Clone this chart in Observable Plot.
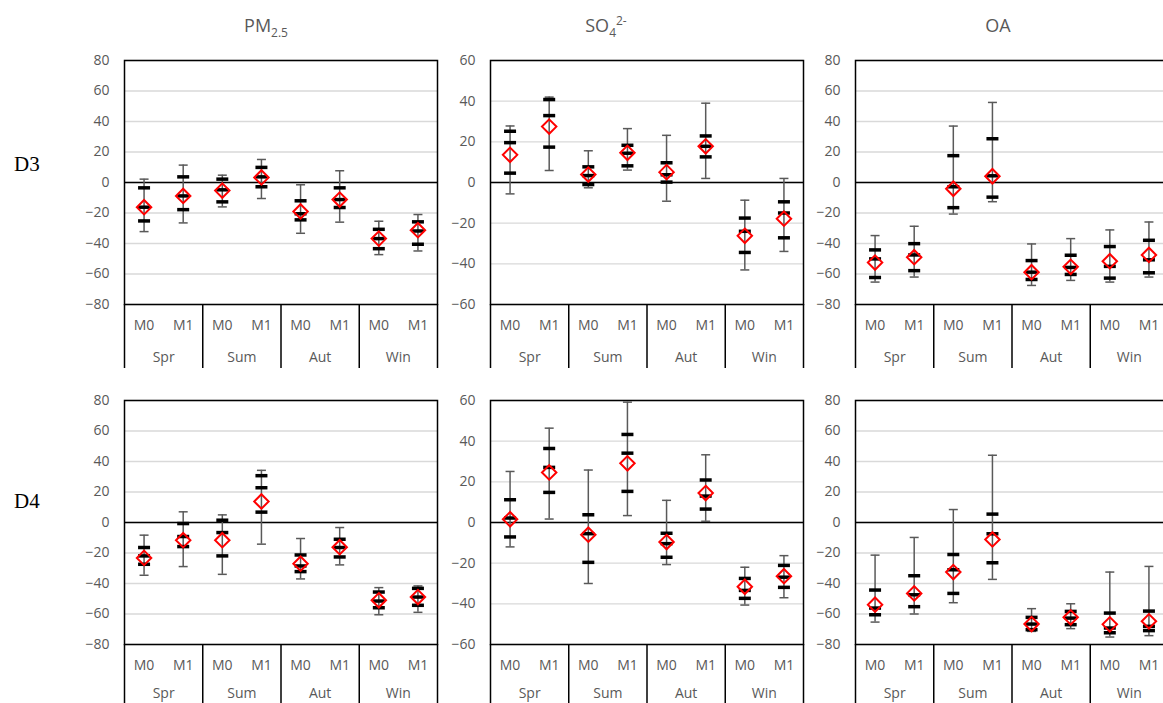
<!DOCTYPE html>
<html>
<head>
<meta charset="utf-8">
<script src="https://cdn.jsdelivr.net/npm/d3@7"></script>
<script src="https://cdn.jsdelivr.net/npm/@observablehq/plot@0.6"></script>
<style>
  html, body { margin: 0; padding: 0; background: #fff; overflow: hidden; }
  #root { position: relative; width: 1163px; height: 703px; overflow: hidden; background: #fff; }
  .title { position: absolute; width: 200px; text-align: center; font-family: "Open Sans", sans-serif; font-size: 18px; line-height: 18px; color: #595959; }
  .title sub, .title sup { font-size: 12px; line-height: 0; }
  .row { position: absolute; font-family: "Liberation Serif", "Times New Roman", serif; font-size: 21px; line-height: 21px; color: #000; }
  .panel { position: absolute; }
  .panel svg { max-width: none !important; }
</style>
</head>
<body>
<div id="root"></div>
<script>
// Categories and tick labels
const seasons = ["Spr", "Sum", "Aut", "Win"];
const models = ["M0", "M1"];
const species = ["PM2.5", "SO4 2-", "OA"];
const domains = ["D3", "D4"];

// Each row: [low whisker, 25th pct, median, 75th pct, high whisker, mean]
// order: Spr M0, Spr M1, Sum M0, Sum M1, Aut M0, Aut M1, Win M0, Win M1
const pm25_D3 = [
  [-32.2, -25.2, -16.2, -3.5, 2.2, -16.2],
  [-26.5, -17.8, -8.8, 3.7, 11.4, -8.8],
  [-16.0, -12.7, -4.8, 2.2, 4.8, -5.3],
  [-10.5, -2.8, 3.7, 9.9, 15.1, 3.3],
  [-33.3, -24.5, -20.5, -12.0, -1.5, -19.0],
  [-26.0, -16.4, -11.2, -3.5, 7.7, -11.2],
  [-47.3, -43.4, -36.8, -30.7, -25.4, -36.8],
  [-44.9, -40.5, -31.8, -25.8, -21.0, -31.3]
];
const so4_D3 = [
  [-5.6, 4.6, 19.6, 25.2, 27.8, 13.6],
  [5.9, 17.4, 32.9, 40.8, 42.0, 27.5],
  [-2.6, -1.0, 3.4, 7.7, 15.6, 3.9],
  [6.1, 8.2, 14.4, 18.3, 26.5, 14.6],
  [-9.2, 0.2, 3.8, 9.7, 23.2, 5.1],
  [2.0, 12.6, 17.8, 22.9, 39.0, 17.8],
  [-43.0, -34.4, -24.0, -17.5, -8.7, -26.2],
  [-33.9, -27.2, -15.0, -9.5, 2.0, -17.8]
];
const oa_D3 = [
  [-65.3, -62.3, -50.1, -44.2, -34.8, -52.5],
  [-62.0, -57.8, -47.5, -40.1, -28.7, -49.0],
  [-20.7, -16.5, -2.8, 17.6, 37.0, -4.1],
  [-12.6, -9.6, 4.4, 28.7, 52.5, 4.1],
  [-67.5, -63.6, -58.8, -51.2, -40.3, -58.8],
  [-64.2, -60.3, -55.7, -47.7, -36.8, -55.3],
  [-65.3, -62.7, -55.0, -42.0, -31.1, -51.6],
  [-62.0, -59.2, -50.7, -37.9, -25.9, -47.5]
];
const pm25_D4 = [
  [-34.6, -27.4, -21.9, -16.4, -8.3, -23.2],
  [-28.9, -15.8, -9.2, -0.7, 7.0, -11.6],
  [-34.0, -21.9, -6.6, 1.5, 5.0, -11.6],
  [-14.2, 6.8, 22.8, 30.7, 34.2, 13.8],
  [-37.0, -32.2, -28.5, -21.3, -10.5, -27.0],
  [-27.8, -22.6, -16.4, -11.0, -3.3, -16.2],
  [-60.5, -55.9, -51.5, -45.6, -42.7, -51.0],
  [-58.9, -54.3, -48.9, -43.2, -41.6, -48.9]
];
const so4_D4 = [
  [-12.0, -7.1, 2.2, 11.2, 25.1, 1.6],
  [1.7, 14.8, 27.1, 36.4, 46.4, 24.6],
  [-30.0, -19.6, -5.5, 3.8, 25.8, -6.0],
  [3.4, 15.3, 34.1, 43.3, 59.2, 29.1],
  [-20.7, -17.1, -10.4, -5.3, 10.9, -9.6],
  [0.6, 6.6, 13.0, 20.9, 33.3, 14.5],
  [-40.6, -37.3, -33.4, -27.5, -22.0, -31.6],
  [-37.0, -31.9, -26.9, -21.1, -16.3, -26.4]
];
const oa_D4 = [
  [-65.3, -60.5, -56.1, -44.3, -21.4, -53.9],
  [-60.0, -55.2, -47.4, -34.9, -9.8, -46.5],
  [-52.6, -46.5, -31.0, -21.0, 8.5, -32.5],
  [-37.3, -26.4, -7.4, 5.5, 44.1, -11.1],
  [-71.4, -70.3, -66.6, -62.2, -56.5, -66.6],
  [-69.6, -67.0, -62.7, -58.3, -53.3, -62.2],
  [-75.1, -72.3, -69.2, -59.4, -32.5, -66.8],
  [-74.2, -70.9, -68.1, -58.1, -28.8, -64.8]
];

// y-axis ranges
const yRangeWide = [-80, 80];
const yRangeSO4 = [-60, 60];

const root = document.getElementById("root");

// horizontal-bar symbol of fixed pixel half-width
function hbar(half) {
  return { draw(ctx) { ctx.moveTo(-half, 0); ctx.lineTo(half, 0); } };
}

function panel(rows, ydom, left, top, seasonPad) {
  const data = rows.map((r, i) => ({
    x: i + 0.5, lo: r[0], q1: r[1], med: r[2], q3: r[3], hi: r[4], mean: r[5]
  }));
  const yTicks = d3.range(ydom[0], ydom[1] + 1, 20);
  const catTicks = d3.range(0, 8).map(i => i + 0.5);
  const seasonTicks = seasons.map((s, i) => i * 2 + 1);
  const sepTicks = d3.range(0, 9, 2);
  const ML = 70, MR = 10, MT = 10, MB = 70;
  const W = ML + 313 + MR, H = MT + 244 + MB;
  const svg = Plot.plot({
    width: W,
    height: H,
    marginLeft: ML, marginRight: MR, marginTop: MT, marginBottom: MB,
    x: { domain: [0, seasons.length * models.length], axis: null },
    y: { domain: ydom, axis: null },
    style: { fontFamily: "'Open Sans', sans-serif", fontSize: "14px", color: "#595959", background: "transparent", overflow: "visible" },
    marks: [
      Plot.gridY(yTicks, { stroke: "#d9d9d9", strokeOpacity: 1, strokeWidth: 1.4 }),
      Plot.ruleY([0], { stroke: "#000", strokeWidth: 1.5 }),
      Plot.frame({ stroke: "#000", strokeWidth: 1.5 }),
      Plot.axisY(yTicks, { tickSize: 0, tickPadding: 15, fill: "#595959", fontSize: 14, label: null }),
      Plot.axisX(sepTicks, { tickSize: 64, tickFormat: () => "", stroke: "#000", strokeWidth: 1.5, label: null }),
      Plot.axisX(catTicks, { tickSize: 0, tickPadding: 16, tickFormat: d => models[Math.floor(d) % 2], fill: "#595959", fontSize: 14, label: null }),
      Plot.axisX(seasonTicks, { tickSize: 0, tickPadding: seasonPad, tickFormat: d => seasons[(d - 1) / 2], fill: "#595959", fontSize: 14, label: null }),
      Plot.ruleX(data, { x: "x", y1: "lo", y2: "hi", stroke: "#595959", strokeWidth: 1.5 }),
      Plot.dot(data, { x: "x", y: "lo", symbol: hbar(4.5), r: 3, fill: "none", stroke: "#595959", strokeWidth: 1.5 }),
      Plot.dot(data, { x: "x", y: "hi", symbol: hbar(4.5), r: 3, fill: "none", stroke: "#595959", strokeWidth: 1.5 }),
      Plot.dot(data, { x: "x", y: "q1", symbol: hbar(6), r: 3, fill: "none", stroke: "#000", strokeWidth: 3.5 }),
      Plot.dot(data, { x: "x", y: "med", symbol: hbar(6), r: 3, fill: "none", stroke: "#000", strokeWidth: 3.5 }),
      Plot.dot(data, { x: "x", y: "q3", symbol: hbar(6), r: 3, fill: "none", stroke: "#000", strokeWidth: 3.5 }),
      Plot.dot(data, { x: "x", y: "mean", symbol: "diamond2", r: 6.5, fill: "none", stroke: "#ff0000", strokeWidth: 2 })
    ]
  });
  svg.style.maxWidth = "none";
  svg.style.width = W + "px";
  svg.style.height = H + "px";
  const wrap = document.createElement("div");
  wrap.className = "panel";
  wrap.style.left = (left - ML) + "px";
  wrap.style.top = (top - MT) + "px";
  wrap.style.width = W + "px";
  wrap.style.height = H + "px";
  wrap.appendChild(svg);
  root.appendChild(wrap);
}

const colLeft = [123.5, 490, 854.5];
const rowTop = [60, 399.5];

panel(pm25_D3, yRangeWide, colLeft[0], rowTop[0], 48);
panel(so4_D3, yRangeSO4, colLeft[1], rowTop[0], 48);
panel(oa_D3, yRangeWide, colLeft[2], rowTop[0], 48);
panel(pm25_D4, yRangeWide, colLeft[0], rowTop[1], 44);
panel(so4_D4, yRangeSO4, colLeft[1], rowTop[1], 44);
panel(oa_D4, yRangeWide, colLeft[2], rowTop[1], 44);

// column titles
const titleHTML = ["PM<sub>2.5</sub>", "SO<sub>4</sub><sup>2-</sup>", "OA"];
const titleCenter = [266, 606, 998];
titleHTML.forEach((h, i) => {
  const t = document.createElement("div");
  t.className = "title";
  t.innerHTML = h;
  t.style.left = (titleCenter[i] - 100) + "px";
  t.style.top = "16px";
  root.appendChild(t);
});

// row labels
const rowLabelTop = [153.5, 490.5];
domains.forEach((d, i) => {
  const t = document.createElement("div");
  t.className = "row";
  t.textContent = d;
  t.style.left = "14px";
  t.style.top = rowLabelTop[i] + "px";
  root.appendChild(t);
});
</script>
</body>
</html>
